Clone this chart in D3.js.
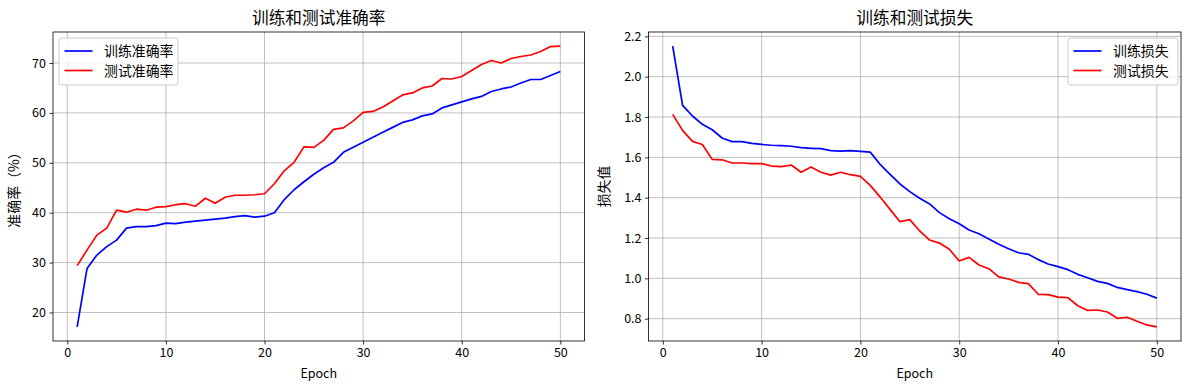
<!DOCTYPE html>
<html>
<head>
<meta charset="utf-8">
<script src="https://cdn.jsdelivr.net/npm/d3@7"></script>
<style>
  body { margin: 0; background: #fff; }
  text { font-family: "Noto Sans CJK SC", "DejaVu Sans", sans-serif; fill: #000; }
</style>
</head>
<body>
<script>
// data
var epochs = d3.range(1, 51);

var trainAcc = [17.1, 28.8, 31.5, 33.2, 34.5, 36.9, 37.2, 37.2, 37.4, 37.9,
  37.8, 38.1, 38.3, 38.5, 38.7, 38.9, 39.2, 39.4, 39.1, 39.3,
  40.0, 42.6, 44.6, 46.2, 47.7, 49.0, 50.1, 52.1, 53.1, 54.1,
  55.1, 56.1, 57.1, 58.1, 58.6, 59.4, 59.8, 61.0, 61.6, 62.2,
  62.8, 63.3, 64.3, 64.8, 65.2, 66.0, 66.7, 66.7, 67.5, 68.3];

var testAcc = [29.4, 32.5, 35.5, 36.9, 40.5, 40.1, 40.7, 40.5, 41.1, 41.2,
  41.6, 41.8, 41.3, 42.9, 41.9, 43.1, 43.5, 43.5, 43.6, 43.8,
  45.8, 48.4, 50.1, 53.2, 53.1, 54.5, 56.7, 57.0, 58.4, 60.1,
  60.3, 61.2, 62.4, 63.6, 64.0, 65.0, 65.4, 66.9, 66.8, 67.3,
  68.5, 69.7, 70.5, 70.0, 70.9, 71.3, 71.6, 72.3, 73.3, 73.4];

var trainLoss = [2.152, 1.858, 1.805, 1.764, 1.737, 1.696, 1.678, 1.678, 1.669, 1.664,
  1.660, 1.658, 1.655, 1.648, 1.645, 1.643, 1.633, 1.631, 1.633, 1.630,
  1.626, 1.565, 1.516, 1.468, 1.430, 1.397, 1.369, 1.326, 1.296, 1.271,
  1.240, 1.221, 1.195, 1.169, 1.147, 1.127, 1.119, 1.093, 1.071, 1.058,
  1.043, 1.020, 1.003, 0.985, 0.975, 0.955, 0.944, 0.934, 0.921, 0.902];

var testLoss = [1.813, 1.734, 1.679, 1.664, 1.590, 1.588, 1.572, 1.572, 1.569, 1.569,
  1.557, 1.554, 1.562, 1.526, 1.552, 1.526, 1.512, 1.526, 1.514, 1.506,
  1.461, 1.403, 1.342, 1.281, 1.291, 1.235, 1.190, 1.175, 1.144, 1.086,
  1.104, 1.066, 1.048, 1.007, 0.997, 0.980, 0.974, 0.921, 0.919, 0.907,
  0.904, 0.864, 0.841, 0.843, 0.833, 0.802, 0.807, 0.787, 0.769, 0.759];

var xTicks = [0, 10, 20, 30, 40, 50];
var accTicks = [20, 30, 40, 50, 60, 70];
var lossTicks = [0.8, 1.0, 1.2, 1.4, 1.6, 1.8, 2.0, 2.2];

var svgWidth = 1189;
var svgHeight = 390;

var svg = d3.select("body")
  .append("svg")
  .attr("width", svgWidth)
  .attr("height", svgHeight);

// pads the domain by 5% like matplotlib does
function padded(lo, hi) {
  var m = (hi - lo) * 0.05;
  return [lo - m, hi + m];
}

function drawPanel(opt) {
  var g = svg.append("g");
  var left = opt.left, right = opt.right, top = 32, bottom = 341;

  var x = d3.scaleLinear()
    .domain(padded(1, 50))
    .range([left, right]);

  var allY = opt.series[0].values.concat(opt.series[1].values);
  var y = d3.scaleLinear()
    .domain(padded(d3.min(allY), d3.max(allY)))
    .range([bottom, top]);

  // grid
  g.selectAll(".gx").data(xTicks).enter().append("line")
    .attr("x1", d => x(d)).attr("x2", d => x(d))
    .attr("y1", top).attr("y2", bottom)
    .attr("stroke", "#b0b0b0").attr("stroke-width", 0.8);
  g.selectAll(".gy").data(opt.yTicks).enter().append("line")
    .attr("x1", left).attr("x2", right)
    .attr("y1", d => y(d)).attr("y2", d => y(d))
    .attr("stroke", "#b0b0b0").attr("stroke-width", 0.8);

  // axes
  var bottomAxis = d3.axisBottom(x).tickValues(xTicks).tickSize(3.5).tickPadding(3.5);
  var leftAxis = d3.axisLeft(y).tickValues(opt.yTicks).tickSize(3.5).tickPadding(3.5)
    .tickFormat(opt.fmt);

  var xa = g.append("g").attr("transform", `translate(0, ${bottom})`).call(bottomAxis);
  var ya = g.append("g").attr("transform", `translate(${left}, 0)`).call(leftAxis);
  [xa, ya].forEach(function(a) {
    a.select(".domain").remove();
    a.selectAll("line").attr("stroke", "#000").attr("stroke-width", 0.8);
    a.selectAll("text").style("font-size", "12.5px").attr("fill", "#000");
  });

  // lines
  var line = d3.line()
    .x((d, i) => x(epochs[i]))
    .y(d => y(d));

  opt.series.forEach(function(s) {
    g.append("path")
      .datum(s.values)
      .attr("fill", "none")
      .attr("stroke", s.color)
      .attr("stroke-width", 1.7)
      .attr("stroke-linejoin", "round")
      .attr("d", line);
  });

  // frame
  g.append("rect")
    .attr("x", left).attr("y", top)
    .attr("width", right - left).attr("height", bottom - top)
    .attr("fill", "none").attr("stroke", "#000").attr("stroke-width", 0.8);

  // title and labels
  g.append("text")
    .attr("x", (left + right) / 2).attr("y", 24)
    .attr("text-anchor", "middle")
    .style("font-size", "16.7px")
    .text(opt.title);

  g.append("text")
    .attr("x", (left + right) / 2).attr("y", 378)
    .attr("text-anchor", "middle")
    .style("font-size", "12.5px")
    .text("Epoch");

  g.append("text")
    .attr("transform", `translate(${opt.ylabelX}, ${(top + bottom) / 2}) rotate(-90)`)
    .attr("text-anchor", "middle")
    .style("font-size", "13.9px")
    .text(opt.ylabel);

  // legend
  var lg = g.append("g").attr("transform", `translate(${opt.legendX}, 38)`);
  lg.append("rect")
    .attr("width", opt.legendW).attr("height", 47)
    .attr("rx", 3)
    .attr("fill", "#fff").attr("fill-opacity", 0.8)
    .attr("stroke", "#cccccc").attr("stroke-width", 1);
  opt.series.forEach(function(s, i) {
    var cy = 13 + i * 19.5;
    lg.append("line")
      .attr("x1", 5.5).attr("x2", 33.5)
      .attr("y1", cy).attr("y2", cy)
      .attr("stroke", s.color).attr("stroke-width", 1.7);
    lg.append("text")
      .attr("x", 45).attr("y", cy + 5)
      .style("font-size", "13.9px")
      .text(s.name);
  });
}

drawPanel({
  left: 53, right: 584.5,
  title: "训练和测试准确率",
  ylabel: "准确率（%）",
  ylabelX: 19,
  yTicks: accTicks,
  fmt: d3.format("d"),
  legendX: 59, legendW: 119,
  series: [
    { name: "训练准确率", color: "blue", values: trainAcc },
    { name: "测试准确率", color: "red", values: testAcc }
  ]
});

drawPanel({
  left: 648.5, right: 1181,
  title: "训练和测试损失",
  ylabel: "损失值",
  ylabelX: 609,
  yTicks: lossTicks,
  fmt: d3.format(".1f"),
  legendX: 1068, legendW: 110,
  series: [
    { name: "训练损失", color: "blue", values: trainLoss },
    { name: "测试损失", color: "red", values: testLoss }
  ]
});
</script>
</body>
</html>
